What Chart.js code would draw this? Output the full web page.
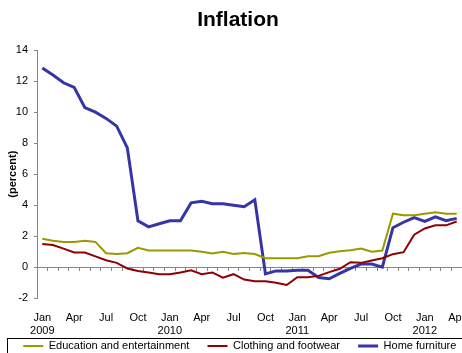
<!DOCTYPE html>
<html>
<head>
<meta charset="utf-8">
<script src="https://cdn.jsdelivr.net/npm/chart.js@4/dist/chart.umd.min.js"></script>
<style>
  html, body { margin: 0; padding: 0; background: #fff; }
  #wrap { width: 462px; height: 353px; }
</style>
</head>
<body>
<div id="wrap"><canvas id="myChart" width="462" height="353"></canvas></div>
<script>
const categories = [
    'Jan 2009', 'Feb 2009', 'Mar 2009', 'Apr 2009', 'May 2009', 'Jun 2009', 'Jul 2009', 'Aug 2009', 'Sep 2009', 'Oct 2009', 'Nov 2009', 'Dec 2009',
    'Jan 2010', 'Feb 2010', 'Mar 2010', 'Apr 2010', 'May 2010', 'Jun 2010', 'Jul 2010', 'Aug 2010', 'Sep 2010', 'Oct 2010', 'Nov 2010', 'Dec 2010',
    'Jan 2011', 'Feb 2011', 'Mar 2011', 'Apr 2011', 'May 2011', 'Jun 2011', 'Jul 2011', 'Aug 2011', 'Sep 2011', 'Oct 2011', 'Nov 2011', 'Dec 2011',
    'Jan 2012', 'Feb 2012', 'Mar 2012', 'Apr 2012'
];

// months that get a tick label
const tickMonths = ['Jan', 'Apr', 'Jul', 'Oct'];

const education = [1.83, 1.7, 1.63, 1.63, 1.7, 1.63, 0.9, 0.85, 0.9, 1.25, 1.08, 1.08,
    1.08, 1.08, 1.08, 1.0, 0.88, 1.0, 0.85, 0.92, 0.85, 0.58, 0.58, 0.58,
    0.58, 0.71, 0.71, 0.93, 1.03, 1.1, 1.2, 1.0, 1.08, 3.45, 3.35, 3.35,
    3.45, 3.55, 3.45, 3.45];

const clothing = [1.5, 1.43, 1.2, 0.95, 0.95, 0.7, 0.45, 0.28, -0.08, -0.24, -0.34, -0.45,
    -0.45, -0.34, -0.2, -0.45, -0.34, -0.67, -0.45, -0.8, -0.9, -0.9, -1.0, -1.15,
    -0.65, -0.65, -0.56, -0.32, -0.1, 0.32, 0.28, 0.43, 0.58, 0.84, 0.97, 2.1,
    2.5, 2.7, 2.7, 2.95];

const furniture = [12.85, 12.4, 11.9, 11.6, 10.3, 10.0, 9.6, 9.1, 7.7, 3.0, 2.6, 2.8,
    3.0, 3.0, 4.15, 4.25, 4.1, 4.1, 4.0, 3.9, 4.35, -0.43, -0.24, -0.24,
    -0.2, -0.2, -0.67, -0.75, -0.4, -0.07, 0.2, 0.2, 0.0, 2.55, 2.9, 3.2,
    2.95, 3.25, 3.0, 3.15];

const yTicks = [-2, 0, 2, 4, 6, 8, 10, 12, 14];

const fonte = 'Liberation Sans, Arial, sans-serif';
const cinza = '#868686';

// acertos finos de posicao (titulo, legenda, rotulos) e moldura da legenda
const ajustes = {
    id: 'ajustes',
    afterLayout(chart) {
        chart.titleBlock.left = 14;
        chart.legend.left += 7.6;
        chart.legend.right += 8;
        chart.scales.x.bottom = chart.height;   // nao cortar a linha dos anos
    },
    afterDraw(chart) {
        const lg = chart.legend;
        const ctx = chart.ctx;
        ctx.save();
        ctx.strokeStyle = '#000';
        ctx.lineWidth = 1;
        ctx.strokeRect(7.5, Math.round(lg.top) + 9.5, 470, 40);
        ctx.restore();
    }
};

const data = {
    labels: categories,
    datasets: [
        { label: 'Education and entertainment', data: education, borderColor: '#999900', backgroundColor: '#999900', borderWidth: 2 },
        { label: 'Clothing and footwear', data: clothing, borderColor: '#900000', backgroundColor: '#900000', borderWidth: 2 },
        { label: 'Home furniture', data: furniture, borderColor: '#3535a8', backgroundColor: '#3535a8', borderWidth: 3 }
    ]
};

const tickFont = { size: 11, family: fonte };

const config = {
    type: 'line',
    data: data,
    plugins: [ajustes],
    options: {
        responsive: false,
        animation: false,
        layout: { padding: { left: 2, right: 0, top: 0, bottom: -8.5 } },
        elements: { point: { radius: 0 }, line: { tension: 0 } },
        scales: {
            x: {
                offset: true,
                grid: { display: false, drawTicks: false },
                border: { display: false },
                afterFit: function (s) { s.height = 30.3; s.paddingLeft = 0; s.paddingRight = 0; },
                ticks: {
                    autoSkip: false,
                    maxRotation: 0,
                    color: '#000',
                    font: tickFont,
                    padding: 13,
                    callback: function (v, i) {
                        const parts = categories[i].split(' ');
                        if (!tickMonths.includes(parts[0])) return '';
                        return parts[0] === 'Jan' ? [parts[0], parts[1]] : [parts[0], ''];
                    }
                }
            },
            x2: {
                type: 'category',
                offset: true,
                position: { y: 0 },
                grid: { drawOnChartArea: false, drawTicks: true, tickLength: 3, color: cinza, offset: true },
                border: { color: cinza },
                ticks: { display: false, autoSkip: false }
            },
            y: {
                min: -2,
                max: 14,
                afterBuildTicks: function (axis) { axis.ticks = yTicks.map(v => ({ value: v })); },
                afterFit: function (s) { s.width = 35; },
                grid: { drawOnChartArea: false, drawTicks: true, tickLength: 3, color: cinza },
                border: { color: cinza },
                title: { display: true, text: '(percent)', color: '#000', font: { size: 11, weight: 'bold', family: fonte }, padding: 4 },
                ticks: { color: '#000', font: tickFont, padding: 6 }
            }
        },
        plugins: {
            title: {
                display: true,
                text: 'Inflation',
                color: '#000',
                font: { size: 21, weight: 'bold', family: fonte },
                padding: { top: 8, bottom: 17 }
            },
            legend: {
                position: 'bottom',
                labels: {
                    usePointStyle: true,
                    pointStyle: 'line',
                    pointStyleWidth: 20,
                    padding: 12,
                    color: '#000',
                    font: tickFont,
                    generateLabels: function (chart) {
                        const itens = Chart.defaults.plugins.legend.labels.generateLabels(chart);
                        itens.forEach((it, i) => { if (i < 2) it.text += '  '; });
                        return itens;
                    }
                }
            },
            tooltip: { enabled: false }
        }
    }
};

const grafico = new Chart(document.getElementById('myChart'), config);
</script>
</body>
</html>
